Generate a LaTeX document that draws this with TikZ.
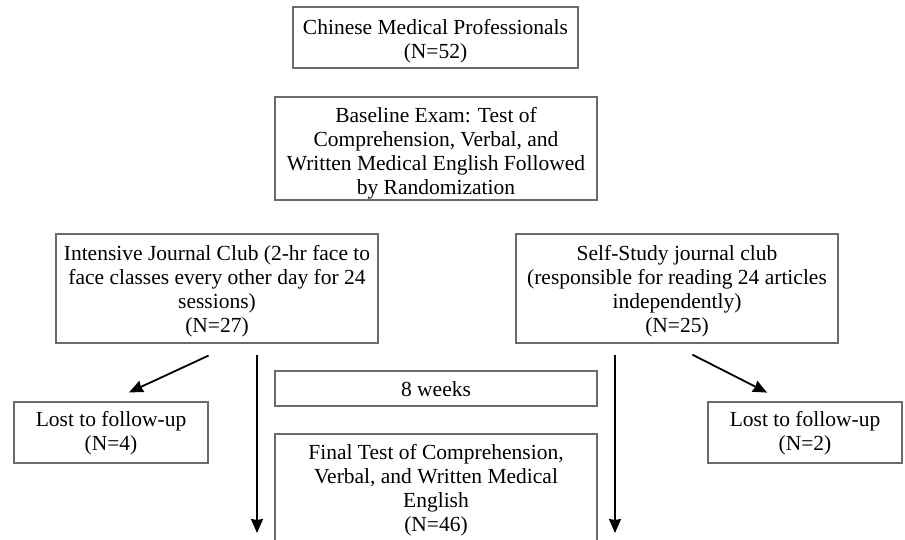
\documentclass[tikz,border=0pt]{standalone}
\usepackage{fontspec}
\setmainfont{Liberation Serif}
\usetikzlibrary{arrows.meta}
\begin{document}
\begin{tikzpicture}[x=1pt,y=-1pt,
  box/.style={draw=black!58, line width=1.6pt, inner sep=0pt},
  txt/.style={inner sep=0pt, align=center,
    font=\fontsize{21.5}{24}\selectfont, text=black},
  arr/.style={line width=1.8pt, -{Stealth[length=14pt,width=12pt,inset=1pt]}}]
\useasboundingbox (0,0) rectangle (905,539);
\clip (0,0) rectangle (905,539);
\fill[white] (0,0) rectangle (905,539);
\node[box, minimum width=285pt, minimum height=61pt] (pop) at (435.5,37.5) {};
\node[txt] (popT) at ([yshift=-4pt]pop.center)
  {Chinese Medical Professionals\\(N=52)};
\node[box, minimum width=322pt, minimum height=103pt] (base) at (436,148.5) {};
\node[txt] (baseT) at ([yshift=-5pt]base.center)
  {Baseline Exam: Test of\\Comprehension, Verbal, and\\Written Medical English Followed\\by Randomization};
\node[box, minimum width=322pt, minimum height=109pt] (left) at (217,288.5) {};
\node[txt] (leftT) at ([yshift=-3pt]left.center)
  {Intensive Journal Club (2-hr face to\\face classes every other day for 24\\sessions)\\(N=27)};
\node[box, minimum width=322pt, minimum height=109pt] (right) at (677,288.5) {};
\node[txt] (rightT) at ([yshift=-3pt]right.center)
  {Self-Study journal club\\(responsible for reading 24 articles\\independently)\\(N=25)};
\node[box, minimum width=322pt, minimum height=35pt] (weeks) at (436,388.5) {};
\node[txt] (weeksT) at ([yshift=-1pt]weeks.center) {8 weeks};
\node[box, minimum width=322pt, minimum height=111pt] (final) at (436,489.5) {};
\node[txt] (finalT) at ([yshift=-1pt]final.center)
  {Final Test of Comprehension,\\Verbal, and Written Medical\\English\\(N=46)};
\node[box, minimum width=194pt, minimum height=61pt] (lostL) at (111,432.5) {};
\node[txt] (lostLT) at ([yshift=-1pt]lostL.center) {Lost to follow-up\\(N=4)};
\node[box, minimum width=194pt, minimum height=61pt] (lostR) at (805,432.5) {};
\node[txt] (lostRT) at ([yshift=-1pt]lostR.center) {Lost to follow-up\\(N=2)};
\coordinate (endL) at (257,533);
\coordinate (endR) at (615,533);
\draw[arr, shorten <=28pt, shorten >=21pt] ([xshift=17pt]left.south) -- ([xshift=-1pt]lostL.north);
\draw[arr, shorten <=24pt, shorten >=19pt] ([xshift=-6pt]right.south) -- ([xshift=-21pt]lostR.north);
\draw[arr, shorten <=11pt] (left.south -| endL) -- (endL);
\draw[arr, shorten <=11pt] (right.south -| endR) -- (endR);
\end{tikzpicture}
\end{document}
